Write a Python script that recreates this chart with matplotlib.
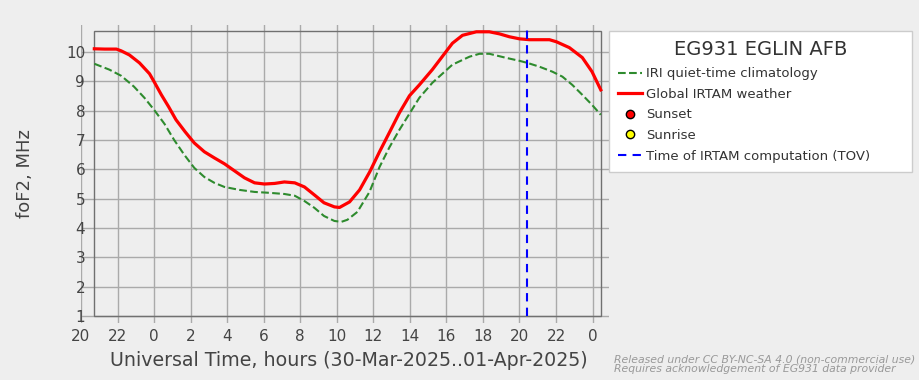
import matplotlib
matplotlib.use("Agg")
import matplotlib.pyplot as plt
from matplotlib.patches import Rectangle

# hours counted from 30-Mar-2025 00:00 UT
irtam_hours = [20.73, 21.3, 21.94, 22.2, 22.65, 23.2, 23.75, 24.0, 24.4, 24.8,
               25.2, 25.7, 26.2, 26.75, 27.3, 27.85, 28.4, 28.95, 29.5, 30.04,
               30.6, 31.13, 31.7, 32.23, 32.77, 33.3, 33.87, 34.15, 34.7, 35.25,
               35.8, 36.34, 36.9, 37.43, 37.98, 38.52, 39.23, 39.78, 40.33, 40.88,
               41.64, 42.35, 42.9, 43.45, 44.0, 44.55, 45.1, 45.64, 46.02, 46.73,
               47.44, 47.97, 48.45]
irtam_fof2 = [10.11, 10.1, 10.1, 10.04, 9.9, 9.63, 9.26, 8.99, 8.54, 8.13,
              7.69, 7.28, 6.9, 6.6, 6.39, 6.19, 5.95, 5.71, 5.54, 5.5,
              5.52, 5.57, 5.54, 5.4, 5.13, 4.86, 4.72, 4.7, 4.89, 5.3,
              5.91, 6.6, 7.28, 7.93, 8.51, 8.88, 9.4, 9.85, 10.3, 10.57,
              10.69, 10.69, 10.62, 10.52, 10.45, 10.42, 10.42, 10.42, 10.35, 10.15,
              9.81, 9.33, 8.71]

iri_hours = [20.73, 21.55, 22.2, 22.9, 23.47, 24.0, 24.57, 25.1, 25.66, 26.2,
             26.75, 27.3, 27.85, 28.67, 29.5, 30.3, 31.13, 31.7, 32.23, 32.77,
             33.3, 33.87, 34.25, 34.58, 35.13, 35.79, 36.34, 36.88, 37.43, 37.98,
             38.52, 39.23, 40.33, 41.26, 41.81, 42.35, 43.28, 44.0, 44.43, 45.09,
             45.8, 46.35, 46.89, 47.44, 47.97, 48.45]
iri_fof2 = [9.6, 9.4, 9.19, 8.82, 8.44, 8.03, 7.55, 7.0, 6.49, 6.05,
            5.74, 5.54, 5.4, 5.3, 5.23, 5.2, 5.16, 5.1, 4.92, 4.69,
            4.41, 4.24, 4.21, 4.28, 4.55, 5.23, 6.08, 6.75, 7.35, 7.9,
            8.44, 8.95, 9.57, 9.84, 9.94, 9.94, 9.8, 9.7, 9.63, 9.5,
            9.33, 9.16, 8.88, 8.54, 8.2, 7.86]

tov_hour = 44.43
station = "EG931 EGLIN AFB"
tick_hours = list(range(20, 49, 2))
tick_labels = [str(h % 24) for h in tick_hours]
y_ticks = list(range(1, 11))

bg = "#eeeeee"
text_col = "#444444"

fig = plt.figure(figsize=(9.2, 3.8), dpi=100, facecolor=bg)
ax = fig.add_axes([81 / 920, 57 / 380, 528 / 920, 298 / 380], facecolor=bg)

ax.set_xlim(20, 20 + 528 / 18.27)
ax.set_ylim(1 - 7 / 29.3, 10 + 27 / 29.3)
for s in ax.spines.values():
    s.set_visible(False)
ax.grid(True, color="#aaaaaa", lw=1, zorder=0)
ax.set_axisbelow(True)

# dark frame around the data window
top = max(irtam_fof2 + iri_fof2) + 0.04
ax.add_patch(Rectangle((irtam_hours[0], 1), irtam_hours[-1] - irtam_hours[0], top - 1,
                       fill=False, edgecolor="#707070", lw=1, zorder=1))

ax.plot(iri_hours, iri_fof2, color="#2e8b2e", ls="--", lw=1.5,
        label="IRI quiet-time climatology", zorder=3)
ax.plot(irtam_hours, irtam_fof2, color="red", lw=2.3,
        label="Global IRTAM weather", zorder=4)
ax.plot([], [], ls="none", marker="o", mfc="red", mec="black", ms=6, label="Sunset")
ax.plot([], [], ls="none", marker="o", mfc="yellow", mec="black", ms=6, label="Sunrise")
y0, y1 = ax.get_ylim()
ax.axvline(tov_hour, ymin=(1 - y0) / (y1 - y0), color="blue", ls=(0, (4, 3)), lw=1.5,
           label="Time of IRTAM computation (TOV)", zorder=5)

ax.set_xticks(tick_hours)
ax.set_xticklabels(tick_labels)
ax.set_yticks(y_ticks)
ax.tick_params(axis="x", length=0, pad=4, labelsize=11, labelcolor=text_col)
ax.tick_params(axis="y", length=0, pad=-3, labelsize=11, labelcolor=text_col)

ax.set_xlabel("Universal Time, hours (30-Mar-2025..01-Apr-2025)", fontsize=13.7, color=text_col)
ax.xaxis.set_label_coords((348.5 - 81) / 528, (323 - 360) / 298)
ax.xaxis.label.set_va("center")
ax.set_ylabel("foF2, MHz", fontsize=13, color=text_col)
ax.yaxis.set_label_coords((25 - 81) / 528, 0.5)
ax.yaxis.label.set_va("center")

leg = fig.legend(loc="upper left", bbox_to_anchor=(609 / 920, 0.3, 303 / 920, (380 - 31) / 380 - 0.3),
                 mode="expand", borderaxespad=0, fontsize=9.5, title=station,
                 title_fontsize=14, frameon=True, fancybox=False, framealpha=1,
                 edgecolor="#cccccc", facecolor="white", handlelength=1.8,
                 handletextpad=0.3, labelspacing=0.58, borderpad=0.72)
leg.get_title().set_color("#333333")
for t in leg.get_texts():
    t.set_color("#333333")

fig.text(614 / 920, 1 - 354 / 380,
         "Released under CC BY-NC-SA 4.0 (non-commercial use)\n"
         "Requires acknowledgement of EG931 data provider",
         fontsize=7.8, style="italic", color="#999999", va="top", linespacing=1.0)

fig.savefig("out.png", dpi=100, facecolor=bg)
